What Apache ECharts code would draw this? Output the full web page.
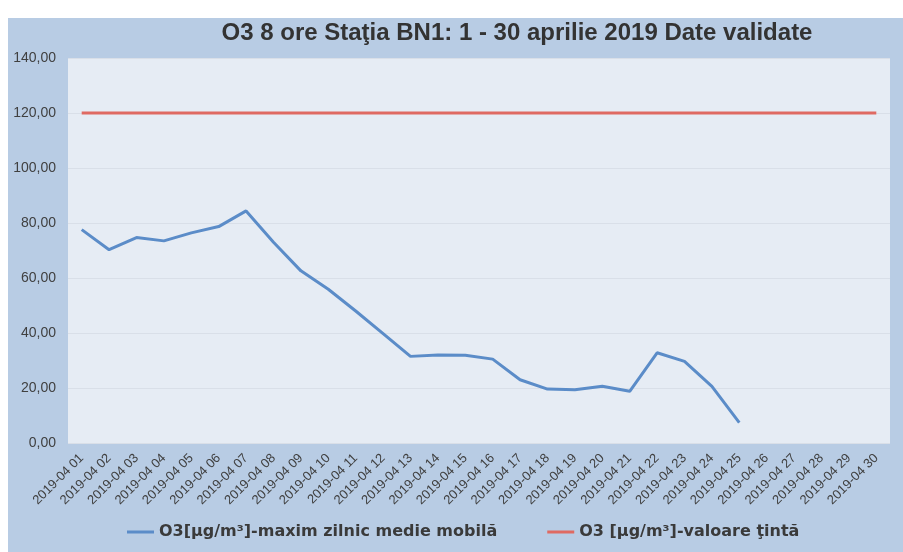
<!DOCTYPE html>
<html>
<head>
<meta charset="utf-8">
<script src="https://cdn.jsdelivr.net/npm/echarts@6/dist/echarts.min.js"></script>
<style>
  html, body { margin: 0; padding: 0; background: #fff; }
  #main { width: 903px; height: 552px; }
</style>
</head>
<body>
<div id="main"></div>
<script>
// zilele lunii aprilie 2019
var days = [];
for (var i = 1; i <= 30; i++) {
    days.push('2019-04 ' + (i < 10 ? '0' + i : i));
}

// O3 maxim zilnic medie mobila (date, 1-25 aprilie)
var o3Max = [77.6, 70.3, 74.7, 73.5, 76.4, 78.7, 84.4, 73.0, 62.6, 55.9,
             48.0, 39.8, 31.5, 32.0, 31.9, 30.5, 23.0, 19.6, 19.4, 20.6,
             18.8, 32.8, 29.7, 20.6, 7.4];

// valoare tinta
var tinta = [];
for (var j = 0; j < days.length; j++) tinta.push(120);

var chart = echarts.init(document.getElementById('main'));

var option = {
    backgroundColor: '#ffffff',
    textStyle: { fontFamily: 'Liberation Sans, Arial, sans-serif' },
    graphic: [
        {
            type: 'rect',
            z: -10,
            shape: { x: 8, y: 18, width: 895, height: 534 },
            style: { fill: '#b8cce4' }
        }
    ],
    title: {
        text: 'O3 8 ore Staţia BN1: 1 - 30 aprilie 2019 Date validate',
        left: 512,
        textAlign: 'center',
        top: 16,
        textStyle: { fontSize: 24, fontWeight: 'bold', color: '#333333' }
    },
    legend: {
        bottom: 7,
        left: 122,
        itemGap: 50,
        itemWidth: 27,
        itemHeight: 3,
        icon: 'rect',
        textStyle: {
            fontSize: 16,
            fontWeight: 'bold',
            color: '#3a3a3a',
            fontFamily: 'DejaVu Sans, Verdana, sans-serif'
        },
        data: ['O3[µg/m³]-maxim zilnic medie mobilă', 'O3 [µg/m³]-valoare ţintă']
    },
    grid: {
        left: 68,
        top: 58,
        right: 13,
        bottom: 109,
        show: true,
        backgroundColor: '#e6ecf4',
        borderWidth: 0
    },
    xAxis: {
        type: 'category',
        data: days,
        boundaryGap: true,
        axisLine: { show: false },
        axisTick: { show: false },
        axisLabel: {
            rotate: 45,
            interval: 0,
            fontSize: 13,
            color: '#404040',
            margin: 13
        }
    },
    yAxis: {
        type: 'value',
        min: 0,
        max: 140,
        interval: 20,
        axisLine: { show: false },
        axisTick: { show: false },
        splitLine: { lineStyle: { color: '#d9dfe8', width: 1 } },
        axisLabel: {
            fontSize: 14,
            color: '#404040',
            margin: 12,
            formatter: function (v) { return v.toFixed(2).replace('.', ','); }
        }
    },
    series: [
        {
            name: 'O3[µg/m³]-maxim zilnic medie mobilă',
            type: 'line',
            data: o3Max,
            symbol: 'none',
            lineStyle: { color: '#5b8cc8', width: 3 },
            itemStyle: { color: '#5b8cc8' }
        },
        {
            name: 'O3 [µg/m³]-valoare ţintă',
            type: 'line',
            data: tinta,
            symbol: 'none',
            lineStyle: { color: '#df6a62', width: 3 },
            itemStyle: { color: '#df6a62' }
        }
    ]
};

chart.setOption(option);
</script>
</body>
</html>
